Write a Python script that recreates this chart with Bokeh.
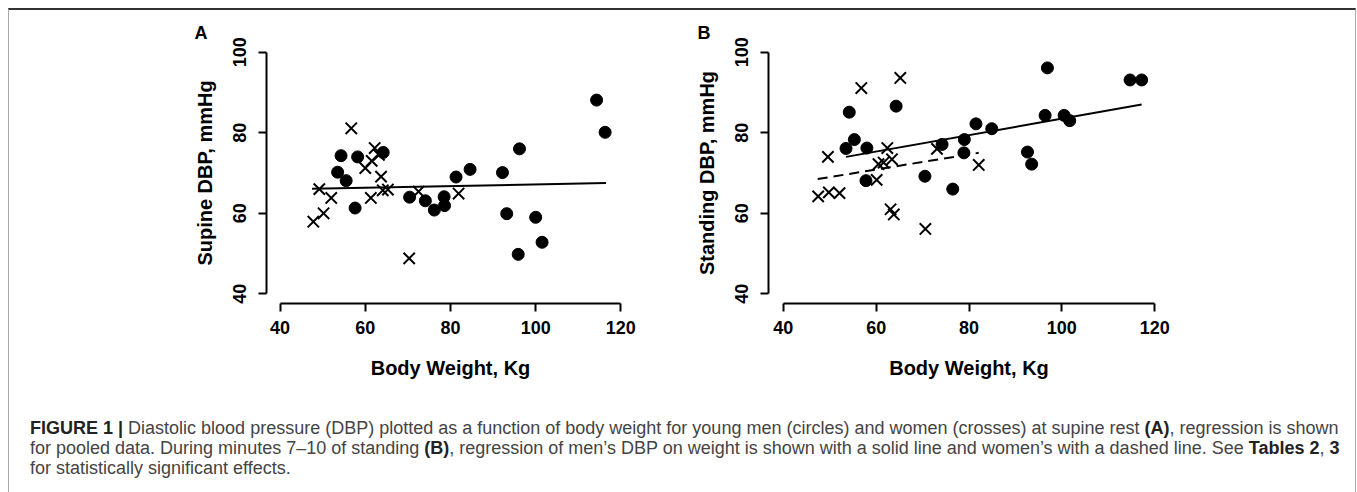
from bokeh.plotting import figure
from bokeh.models import FixedTicker, Div, Range1d, ColumnDataSource, InlineStyleSheet
from bokeh.layouts import column, row
from bokeh.embed import file_html
from bokeh.resources import INLINE

# ---------------- data ----------------
x_ticks = [40, 60, 80, 100, 120]
y_ticks = [40, 60, 80, 100]

# Panel A: supine
a_men_w = [53.5, 54.3, 55.5, 57.6, 58.2, 64.2, 70.4, 74.1, 76.2, 78.5, 78.6,
           81.3, 84.6, 92.2, 93.2, 95.9, 96.2, 100.0, 101.5, 114.3, 116.3]
a_men_dbp = [70.2, 74.3, 68.1, 61.3, 74.0, 75.1, 64.0, 63.1, 60.8, 64.1, 61.9,
             69.0, 70.9, 70.1, 59.9, 49.8, 76.0, 59.0, 52.8, 88.1, 80.1]
a_women_w = [47.8, 49.2, 50.2, 52.0, 56.7, 60.0, 61.3, 61.5, 62.2, 63.2, 63.7,
             64.1, 65.3, 70.3, 72.5, 81.9]
a_women_dbp = [57.9, 66.0, 60.0, 63.8, 81.1, 71.2, 63.8, 73.0, 76.2, 74.5, 69.1,
               65.7, 65.9, 48.8, 65.4, 64.9]
a_fit_w = [47.5, 116.5]
a_fit_dbp = [66.1, 67.5]

# Panel B: standing
b_men_w = [53.5, 54.2, 55.3, 57.8, 58.0, 64.3, 70.5, 74.2, 76.5, 78.9, 79.0,
           81.5, 84.9, 92.6, 93.5, 96.4, 96.9, 100.5, 101.7, 114.7, 117.2]
b_men_dbp = [76.1, 85.1, 78.3, 68.1, 76.2, 86.6, 69.2, 77.1, 66.0, 75.0, 78.3,
             82.2, 81.0, 75.2, 72.2, 84.3, 96.1, 84.3, 83.0, 93.1, 93.1]
b_women_w = [47.5, 49.6, 49.8, 52.1, 56.8, 60.1, 60.5, 61.6, 62.4, 63.1, 63.4,
             63.8, 65.2, 70.6, 73.1, 82.1]
b_women_dbp = [64.2, 74.0, 65.2, 65.0, 91.1, 68.3, 72.2, 72.6, 76.2, 61.0, 73.4,
               59.7, 93.6, 56.1, 76.0, 72.0]
b_men_fit_w = [53.5, 117.2]
b_men_fit_dbp = [74.0, 87.0]
b_women_fit_w = [47.4, 82.1]
b_women_fit_dbp = [68.5, 75.0]

FONT = "Liberation Sans"


def make_panel(width, height, left, right, top, bottom, ylabel, letter, letter_offset):
    p = figure(width=width, height=height,
               x_range=Range1d(36.8, 123.2), y_range=Range1d(37.6, 102.4),
               output_backend="svg", toolbar_location=None,
               min_border_left=left, min_border_right=right,
               min_border_top=top, min_border_bottom=bottom)
    p.outline_line_color = None
    p.grid.visible = False
    p.background_fill_color = None
    p.border_fill_color = None
    for ax, ticks in ((p.xaxis[0], x_ticks), (p.yaxis[0], y_ticks)):
        ax.ticker = FixedTicker(ticks=ticks)
        ax.bounds = (ticks[0], ticks[-1])
        ax.axis_line_width = 2
        ax.axis_line_color = "black"
        ax.major_tick_line_width = 2
        ax.major_tick_line_color = "black"
        ax.major_tick_out = 8
        ax.major_tick_in = 0
        ax.minor_tick_line_color = None
        ax.major_label_text_font = FONT
        ax.major_label_text_font_style = "bold"
        ax.major_label_text_font_size = "18px"
        ax.major_label_text_color = "black"
        ax.axis_label_text_font = FONT
        ax.axis_label_text_font_style = "bold"
        ax.axis_label_text_font_size = "20px"
        ax.axis_label_text_color = "black"
    p.xaxis.axis_label = "Body Weight, Kg"
    p.xaxis.major_label_standoff = 9
    p.xaxis.axis_label_standoff = 20
    p.yaxis.axis_label = ylabel
    p.yaxis.major_label_orientation = "vertical"
    p.yaxis.major_label_standoff = 12
    p.yaxis.axis_label_standoff = 15
    p.title.text = letter
    p.title.align = "left"
    p.title.offset = letter_offset
    p.title.standoff = 0
    p.title.text_font = FONT
    p.title.text_font_style = "bold"
    p.title.text_font_size = "18px"
    p.title.text_color = "black"
    return p


pA = make_panel(651, 385, 257, 26, 32, 91, "Supine DBP, mmHg", "A", -72)
srcA_m = ColumnDataSource(dict(w=a_men_w, d=a_men_dbp))
srcA_w = ColumnDataSource(dict(w=a_women_w, d=a_women_dbp))
pA.line(a_fit_w, a_fit_dbp, line_color="black", line_width=2)
pA.scatter("w", "d", source=srcA_m, marker="circle", size=12,
           fill_color="black", line_color="black")
pA.scatter("w", "d", source=srcA_w, marker="x", size=16,
           line_color="black", line_width=2)

pB = make_panel(685, 385, 108, 176, 28, 92, "Standing DBP, mmHg", "B", -71)
srcB_m = ColumnDataSource(dict(w=b_men_w, d=b_men_dbp))
srcB_w = ColumnDataSource(dict(w=b_women_w, d=b_women_dbp))
pB.line(b_men_fit_w, b_men_fit_dbp, line_color="black", line_width=2)
pB.line(b_women_fit_w, b_women_fit_dbp, line_color="black", line_width=2,
        line_dash="10 6")
pB.scatter("w", "d", source=srcB_m, marker="circle", size=12,
           fill_color="black", line_color="black")
pB.scatter("w", "d", source=srcB_w, marker="x", size=16,
           line_color="black", line_width=2)

caption_html = (
    "<b style='color:#222'>FIGURE 1 |</b> Diastolic blood pressure (DBP) plotted as a function of body weight "
    "for young men (circles) and women (crosses) at supine rest <b style='color:#222'>(A)</b>, regression is shown<br>"
    "for pooled data. During minutes 7\u201310 of standing <b style='color:#222'>(B)</b>, regression of men\u2019s DBP on "
    "weight is shown with a solid line and women\u2019s with a dashed line. See "
    "<b style='color:#222'>Tables 2</b>, <b style='color:#222'>3</b><br>"
    "for statistically significant effects."
)
caption = Div(text=caption_html, width=1336, height=96,
              styles={"font-family": FONT, "font-size": "18px",
                      "line-height": "20px", "color": "#444",
                      "white-space": "nowrap", "padding-top": "18px",
                      "padding-left": "16px", "box-sizing": "border-box"})

box_css = InlineStyleSheet(css=":host { border: 1px solid #aaa; border-top: 2px solid #333; "
                               "margin: 8px 0 0 8px; }")
layout = column(row(pA, pB), caption, stylesheets=[box_css])

open("out.html", "w").write(file_html(layout, INLINE))
